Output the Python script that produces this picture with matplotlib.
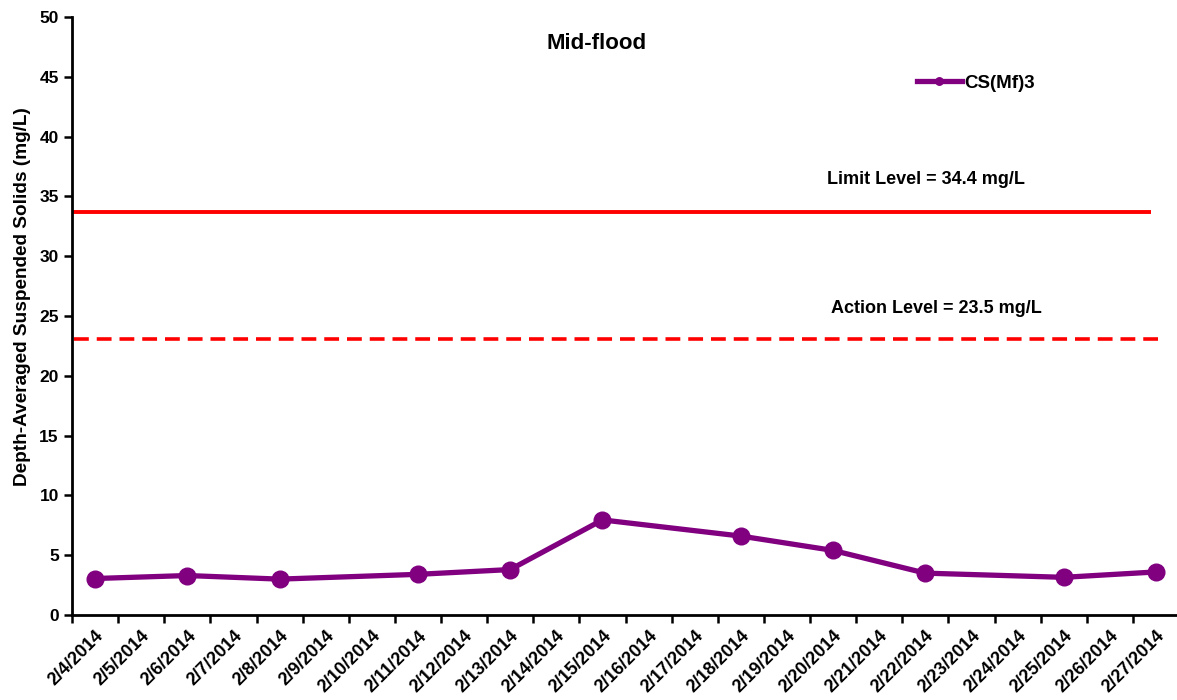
import matplotlib
matplotlib.use("Agg")
from matplotlib import pyplot as plt
import numpy as np

plt.rcParams['font.family'] = ['Liberation Sans', 'DejaVu Sans']
plt.rcParams['font.weight'] = 'bold'

# daily category labels on the x axis
dates = ["2/%d/2014" % d for d in range(4, 28)]

# sampled days and measured values
sample_dates = ["2/4/2014", "2/6/2014", "2/8/2014", "2/11/2014", "2/13/2014", "2/15/2014",
                "2/18/2014", "2/20/2014", "2/22/2014", "2/25/2014", "2/27/2014"]
tss = [3.05, 3.3, 3.0, 3.4, 3.8, 7.95, 6.6, 5.4, 3.5, 3.15, 3.6]

limit_level = 33.7
action_level = 23.1
limit_text = "Limit Level = 34.4 mg/L"
action_text = "Action Level = 23.5 mg/L"

fig = plt.figure(figsize=(11.77, 7.0), dpi=100)
ax = fig.add_axes([72/1177, 1 - 615/700, (1179 - 72)/1177, (615 - 17)/700])

xi = [dates.index(d) for d in sample_dates]
ax.plot(xi, tss, color="#800080", lw=3.8, marker="o", ms=12, label="CS(Mf)3", zorder=3)

ax.plot([-0.5, 22.9], [limit_level, limit_level], color="#ff0000", lw=2.8, solid_capstyle="butt")
ax.plot([-0.45, 23.05], [action_level, action_level], color="#ff0000", lw=2.6, ls=(0, (4.1, 2.2)))

ax.text(18.02, limit_level + 2.75, limit_text, fontsize=13, fontweight="bold", ha="center", va="center")
ax.text(18.24, action_level + 2.55, action_text, fontsize=13, fontweight="bold", ha="center", va="center")
ax.text(0.474, 0.955, "Mid-flood", transform=ax.transAxes, fontsize=16, fontweight="bold",
        ha="center", va="center")

ax.set_xlim(-0.5, 23.5)
ax.set_ylim(0, 50)
ax.set_yticks(np.arange(0, 51, 5))
ax.set_xticks(np.arange(len(dates)))
ax.set_xticklabels(dates, rotation=45, ha="right", rotation_mode="anchor", fontsize=13, fontweight="bold")
ax.set_xticks(np.arange(len(dates) + 1) - 0.5, minor=True)
ax.tick_params(axis="x", which="major", length=0, pad=9)
ax.tick_params(axis="x", which="minor", length=6, width=1.8, direction="out")
ax.tick_params(axis="y", length=6, width=1.8, direction="out", labelsize=12.5)
for t in ax.get_yticklabels():
    t.set_fontweight("bold")

for s in ["top", "right"]:
    ax.spines[s].set_visible(False)
ax.spines["left"].set_linewidth(2)
ax.spines["bottom"].set_linewidth(2)

ax.set_ylabel("Depth-Averaged Suspended Solids (mg/L)", fontsize=13.7, fontweight="bold")
ax.yaxis.set_label_coords(-0.037, 0.532)

leg = ax.legend(loc="center left", bbox_to_anchor=(0.748, 0.889), frameon=False,
                handlelength=2.4, handletextpad=0.15, markerscale=0.45,
                prop={"weight": "bold", "size": 13.5})

fig.savefig("out.png", dpi=100)
